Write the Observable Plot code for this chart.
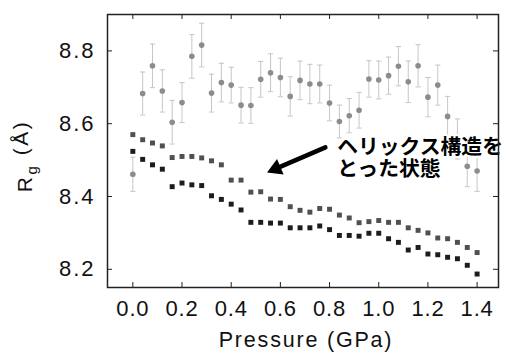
<!DOCTYPE html>
<html><head><meta charset="utf-8">
<script src="https://cdn.jsdelivr.net/npm/d3@7"></script>
<script src="https://cdn.jsdelivr.net/npm/@observablehq/plot@0.6"></script>
<style>body{margin:0;background:#fff;} #chart svg{display:block;}</style>
</head><body><div id="chart"></div>
<script>
// Pressure (GPa) sample points
const pressure = [0.00,0.04,0.08,0.12,0.16,0.20,0.24,0.28,0.32,0.36,0.40,0.44,0.48,0.52,0.56,0.60,0.64,0.68,
                  0.72,0.76,0.80,0.84,0.88,0.92,0.96,1.00,1.04,1.08,1.12,1.16,1.20,1.24,1.28,1.32,1.36,1.40];
// helix state (gray, with error bars)
const rgHelix = [8.461,8.683,8.759,8.690,8.604,8.658,8.785,8.816,8.684,8.713,8.706,8.651,8.650,8.722,8.740,8.727,8.675,8.719,
                 8.709,8.709,8.657,8.606,8.622,8.637,8.723,8.720,8.732,8.758,8.715,8.759,8.673,8.706,8.620,8.558,8.483,8.470];
const rgHelixErr = [0.047,0.059,0.060,0.058,0.060,0.055,0.060,0.060,0.052,0.053,0.049,0.049,0.049,0.049,0.052,0.053,0.054,0.053,
                    0.054,0.052,0.049,0.045,0.047,0.049,0.050,0.052,0.051,0.054,0.057,0.058,0.054,0.055,0.055,0.055,0.056,0.056];
// upper dark series
const rgUpper = [8.570,8.556,8.547,8.539,8.507,8.510,8.510,8.506,8.498,8.487,8.445,8.445,8.412,8.413,8.393,8.392,8.372,8.362,
                 8.357,8.367,8.365,8.349,8.341,8.328,8.331,8.334,8.329,8.329,8.314,8.307,8.300,8.286,8.284,8.274,8.260,8.246];
// lower black series
const rgLower = [8.524,8.502,8.487,8.475,8.427,8.437,8.432,8.430,8.402,8.392,8.379,8.363,8.329,8.329,8.327,8.327,8.314,8.314,
                 8.314,8.319,8.309,8.293,8.293,8.291,8.299,8.299,8.284,8.274,8.253,8.260,8.242,8.240,8.233,8.229,8.211,8.187];
const xTicks = [0.0,0.2,0.4,0.6,0.8,1.0,1.2,1.4];
const yTicks = [8.2,8.4,8.6,8.8];
const xLabel = "Pressure (GPa)";
const yLabel = "Rg (Å)";
const annotation = "ヘリックス構造を\nとった状態";
const annotationAt = [0.831, 8.507];
const arrowFrom = [0.783, 8.535];
const arrowTo = [0.546, 8.466];

const gray = pressure.map((p, i) => ({p, v: rgHelix[i], lo: rgHelix[i] - rgHelixErr[i], hi: rgHelix[i] + rgHelixErr[i]}));
const upper = pressure.map((p, i) => ({p, v: rgUpper[i]}));
const lower = pressure.map((p, i) => ({p, v: rgLower[i]}));

const cap = {draw(ctx, size) { const r = Math.sqrt(size / Math.PI); ctx.moveTo(-r, 0); ctx.lineTo(r, 0); }};
const errColor = "#c6c6c6";

const chart = Plot.plot({
  width: 506, height: 356,
  marginLeft: 107, marginRight: 8, marginTop: 14, marginBottom: 69,
  x: {domain: [-0.103, 1.487]},
  y: {domain: [8.15, 8.9]},
  style: {fontFamily: "'Liberation Sans', Arial, sans-serif", background: "white", color: "#111"},
  marks: [
    Plot.ruleX(gray, {x: "p", y1: "lo", y2: "hi", stroke: errColor, strokeWidth: 1}),
    Plot.dot(gray, {x: "p", y: "lo", symbol: cap, r: 2.6, stroke: errColor, fill: "none", strokeWidth: 1}),
    Plot.dot(gray, {x: "p", y: "hi", symbol: cap, r: 2.6, stroke: errColor, fill: "none", strokeWidth: 1}),
    Plot.dot(gray, {x: "p", y: "v", r: 2.8, fill: "#8c8c8c"}),
    Plot.dot(upper, {x: "p", y: "v", symbol: "square", r: 2.8, fill: "#505050"}),
    Plot.dot(lower, {x: "p", y: "v", symbol: "square", r: 2.8, fill: "#1c1c1c"}),
    Plot.text([annotation], {x: () => annotationAt[0], y: () => annotationAt[1], text: d => d, textAnchor: "start",
      lineAnchor: "middle", lineHeight: 1.08, fontSize: 20.8, fontWeight: "bold",
      fontFamily: "'Noto Sans CJK JP', sans-serif", fill: "#000", stroke: "white", strokeWidth: 4}),
    Plot.arrow([0], {x1: () => arrowFrom[0], y1: () => arrowFrom[1], x2: () => arrowTo[0], y2: () => arrowTo[1],
      stroke: "#000", strokeWidth: 4.5, headLength: 0, insetEnd: 9}),
    Plot.dot([0], {x: () => arrowTo[0], y: () => arrowTo[1], symbol: "triangle", r: 6.2, fill: "#000",
      rotate: 246.7, dx: 8.8, dy: -3.8}),
    Plot.frame({stroke: "#222", strokeWidth: 1.5}),
    Plot.ruleX(xTicks, {x: d => d, insetTop: 268, stroke: "#222"}),
    Plot.ruleX(xTicks, {x: d => d, insetBottom: 268, stroke: "#222"}),
    Plot.ruleY(yTicks, {y: d => d, insetRight: 386, stroke: "#222"}),
    Plot.ruleY(yTicks, {y: d => d, insetLeft: 386, stroke: "#222"}),
    Plot.axisX(xTicks, {tickSize: 0, tickPadding: 13, fontSize: 22, tickFormat: d => d.toFixed(1), label: null}),
    Plot.axisY(yTicks, {tickSize: 0, tickPadding: 12, fontSize: 22, tickFormat: d => d.toFixed(1), label: null}),
    Plot.text([xLabel], {text: d => d, frameAnchor: "bottom", lineAnchor: "middle", textAnchor: "middle", dy: 53, dx: 3, fontSize: 21.5}),
    Plot.text([yLabel], {text: d => d, frameAnchor: "left", lineAnchor: "middle", textAnchor: "middle", dx: -82, dy: 5, rotate: -90, fontSize: 21})
  ]
});
document.getElementById("chart").appendChild(chart);
const svg = d3.select(chart);
// letter spacing to match the reference's wide typesetting
svg.selectAll('g[aria-label="y-axis tick label"] text').style("letter-spacing", "2px");
svg.selectAll('g[aria-label="x-axis tick label"] text').style("letter-spacing", "0.8px");
svg.selectAll("text").filter(function() { return this.textContent === xLabel; }).style("letter-spacing", "1.8px");
// subscript "g" in the y-axis label
svg.selectAll("text").filter(function() { return this.textContent === yLabel; }).each(function() {
  const t = d3.select(this).style("letter-spacing", "2.5px");
  t.text(null);
  t.append("tspan").text("R");
  t.append("tspan").attr("dy", "0.32em").attr("font-size", "15").text("g");
  t.append("tspan").attr("dy", "-0.45em").text(" (Å)");
});
</script></body></html>
